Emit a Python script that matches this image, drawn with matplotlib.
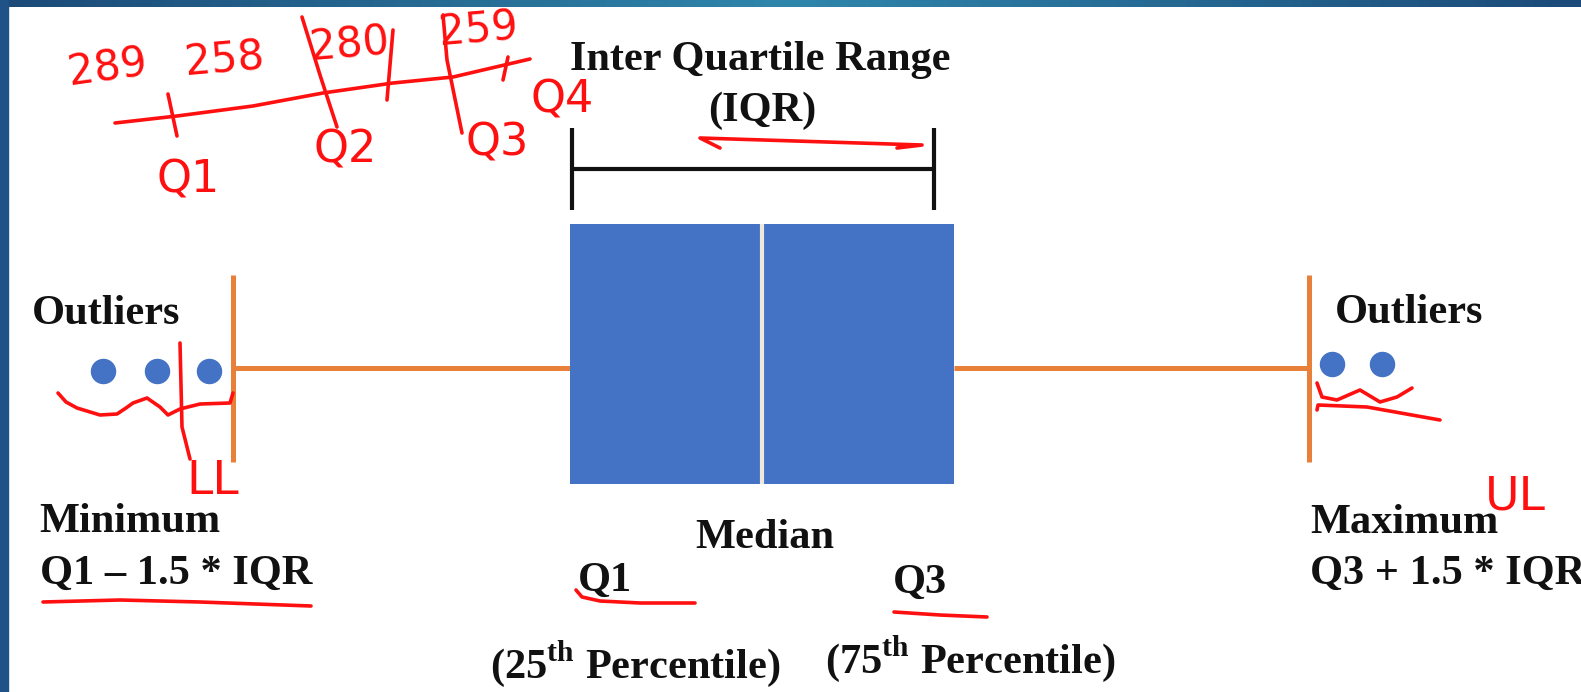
import numpy as np
import matplotlib.pyplot as plt
from matplotlib.colors import LinearSegmentedColormap

plt.rcParams['mathtext.fontset'] = 'custom'
plt.rcParams['mathtext.rm'] = 'Liberation Serif:bold'
plt.rcParams['mathtext.bf'] = 'Liberation Serif:bold'

# five number summary of the sketch, in picture units along x
whisker_lo = 233
q1 = 570
median = 762
q3 = 954
whisker_hi = 1309
outliers_lo = [103, 157, 209]
outliers_hi = [1332, 1382]

# labels printed on the slide
slide_labels = ["Inter Quartile Range", "(IQR)", "Outliers", "Outliers",
                "Minimum", "Q1 \u2013 1.5 * IQR", "Maximum", "Q3 + 1.5 * IQR",
                "Median", "Q1", "Q3",
                r"(25$^{\mathrm{th}}$ Percentile)", r"(75$^{\mathrm{th}}$ Percentile)"]

# teacher's handwritten notes
hand_numbers = ["289", "258", "280", "259"]
hand_quartiles = ["Q1", "Q2", "Q3", "Q4"]
hand_limits = ["LL", "UL"]

# pen strokes (x list, y list)
stroke_scale = ([115, 177, 253, 323, 393, 453, 530], [123, 116, 106, 93, 83, 77, 59])
stroke_ticks = [([168, 177], [94, 136]), ([302, 320, 337], [17, 75, 127]),
                ([393, 387], [30, 100]), ([443, 447, 462], [15, 60, 133]),
                ([508, 503], [57, 80])]
stroke_iqr = ([720, 700, 922, 897], [148, 138, 145, 148])
stroke_brace_lo = ([58, 66, 77, 100, 117, 126, 133, 147, 160, 168, 180, 200, 230, 233],
                   [393, 402, 408, 415, 414, 408, 403, 398, 407, 415, 409, 404, 403, 393])
stroke_ll = ([180, 182, 190], [343, 427, 459])
stroke_brace_hi = ([1317, 1322, 1337, 1360, 1380, 1397, 1412],
                   [383, 397, 400, 390, 402, 397, 388])
stroke_line_hi = ([1317, 1318, 1367, 1440], [410, 405, 407, 420])
stroke_under = [([43, 120, 200, 311], [602, 600, 602, 606]),
                ([576, 582, 600, 640, 695], [590, 597, 601, 603, 603]),
                ([894, 940, 987], [612, 615, 617])]

fig = plt.figure(figsize=(15.81, 6.92), dpi=100)
ax = fig.add_axes([0, 0, 1, 1])
ax.set_xlim(0, 1581)
ax.set_ylim(692, 0)
ax.axis('off')

# slide frame
frame = LinearSegmentedColormap.from_list('frame', ['#1c4a78', '#2f86ab', '#1c4a7a'])
ax.imshow(np.linspace(0, 1, 300)[None, :], cmap=frame, aspect='auto',
          extent=[0, 1581, 7, 0], zorder=5)
ax.axvspan(0, 8, color='#1f5286', zorder=5)

# whiskers and caps
orange = '#e8803a'
ax.hlines([368, 368], [whisker_lo, q3], [q1, whisker_hi], color=orange, lw=3.6, zorder=1)
ax.vlines([whisker_lo, whisker_hi], 275, 462, color=orange, lw=3.6, zorder=1)

# box and median
ax.barh(354, q3 - q1, left=q1, height=260, color='#4472c4', zorder=2)
ax.vlines(median, 224, 484, color='#efe6dc', lw=3, zorder=3)

# outliers
ax.scatter(outliers_lo, [371] * len(outliers_lo), s=300, color='#4472c4', zorder=3)
ax.scatter(outliers_hi, [364] * len(outliers_hi), s=300, color='#4472c4', zorder=3)

# IQR bracket
ax.hlines(169, q1 + 2, 934, color='#111111', lw=3)
ax.vlines([q1 + 2, 934], 128, 210, color='#111111', lw=3)

serif = dict(family='Liberation Serif', weight='bold', size=30.5, color='#111111')
ax.text(760, 70, slide_labels[0], ha='center', va='baseline', **serif)
ax.text(762, 121, slide_labels[1], ha='center', va='baseline', **serif)
ax.text(32, 324, slide_labels[2], ha='left', va='baseline', **serif)
ax.text(1335, 323, slide_labels[3], ha='left', va='baseline', **serif)
ax.text(39, 532, slide_labels[4], ha='left', va='baseline', **serif)
ax.text(40, 584, slide_labels[5], ha='left', va='baseline', **serif)
ax.text(1310, 533, slide_labels[6], ha='left', va='baseline', **serif)
ax.text(1310, 584, slide_labels[7], ha='left', va='baseline', **serif)
ax.text(765, 548, slide_labels[8], ha='center', va='baseline', **serif)
ax.text(578, 591, slide_labels[9], ha='left', va='baseline', **serif)
ax.text(893, 593, slide_labels[10], ha='left', va='baseline', **serif)
ax.text(490, 677, slide_labels[11], ha='left', va='baseline', **serif)
ax.text(825, 672, slide_labels[12], ha='left', va='baseline', **serif)

# handwriting
red = '#ff1010'
pen = dict(color=red, lw=2.6, solid_capstyle='round', solid_joinstyle='round', zorder=6)
ax.plot(*stroke_scale, **pen)
for xs, ys in stroke_ticks:
    ax.plot(xs, ys, **pen)
ax.plot(*stroke_iqr, **pen)
ax.plot(*stroke_brace_lo, **pen)
ax.plot(*stroke_ll, **pen)
ax.plot(*stroke_brace_hi, **pen)
ax.plot(*stroke_line_hi, **pen)
for xs, ys in stroke_under:
    ax.plot(xs, ys, **pen)

hand = dict(family='DejaVu Sans', color=red, ha='center', va='center', zorder=6)
for label, (x, y, rot) in zip(hand_numbers, [(108, 68, 8), (225, 60, 5), (350, 45, 5), (478, 30, 5)]):
    ax.text(x, y, label, rotation=rot, size=30, **hand)
for label, (x, y) in zip(hand_quartiles, [(188, 180), (345, 150), (497, 143), (562, 100)]):
    ax.text(x, y, label, size=32, **hand)
ax.text(213, 482, hand_limits[0], size=34, **hand)
ax.text(1515, 497, hand_limits[1], size=34, **hand)

fig.savefig('out.png', dpi=100, facecolor='white')
